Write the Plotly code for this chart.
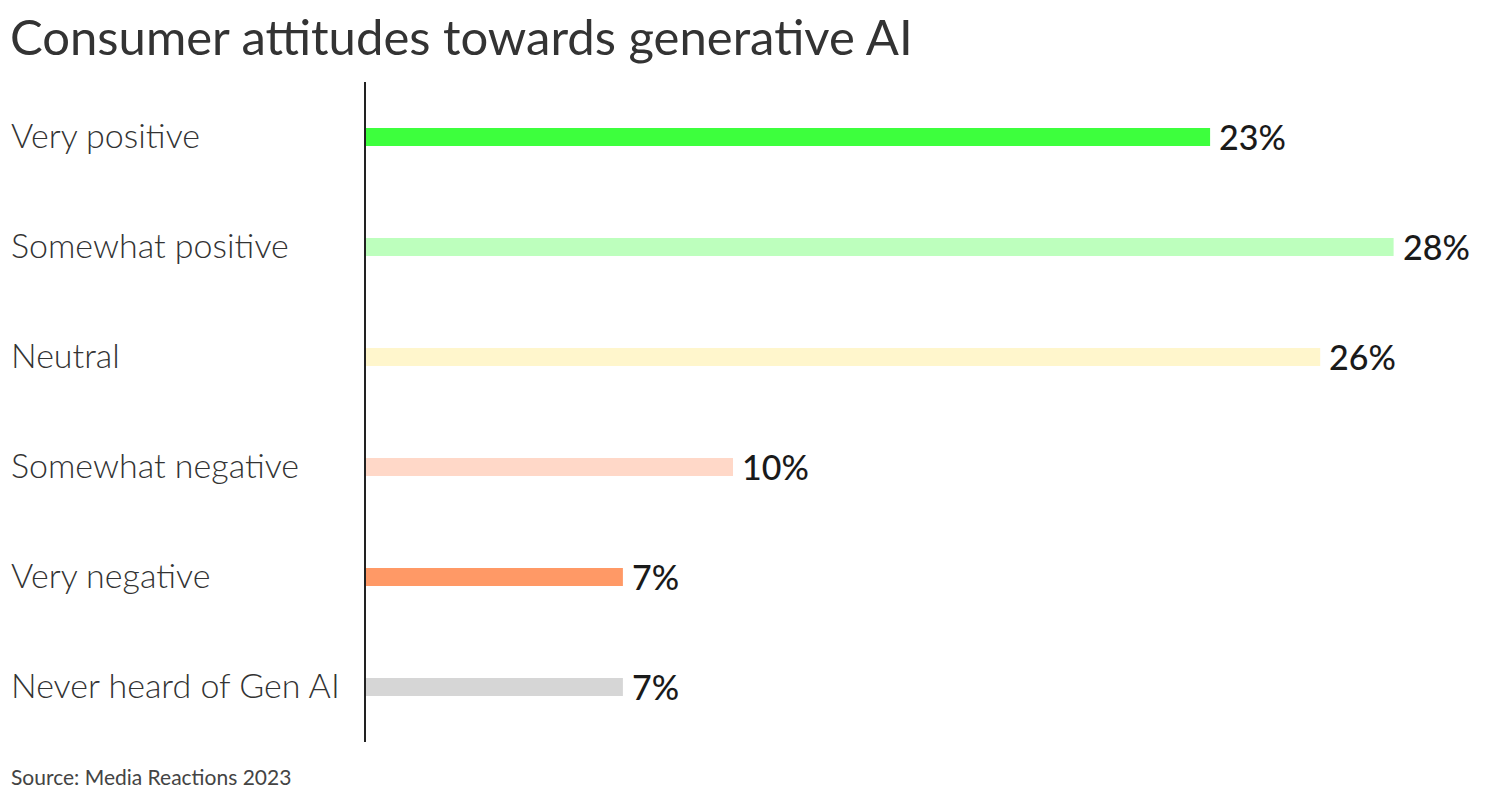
import plotly.graph_objects as go

categories = ["Very positive", "Somewhat positive", "Neutral", "Somewhat negative", "Very negative", "Never heard of Gen AI"]
values = [23, 28, 26, 10, 7, 7]
value_labels = ["23%", "28%", "26%", "10%", "7%", "7%"]
colors = ["#3DFF3D", "#BDFFBD", "#FFF6CC", "#FFD8C8", "#FF9966", "#D6D6D6"]

FONT = "Lato"

fig = go.Figure()
fig.add_trace(go.Bar(
    x=values, y=categories, orientation="h",
    marker=dict(color=colors, line=dict(width=0)),
    width=0.165, hoverinfo="skip",
))

for cat, v, lab in zip(categories, values, value_labels):
    fig.add_annotation(x=v, y=cat, xref="x", yref="y", text=lab, showarrow=False,
                       xanchor="left", xshift=7, yshift=1,
                       font=dict(family=FONT, size=34, color="#1a1a1a", weight=500))
    fig.add_annotation(x=0, y=cat, xref="paper", yref="y", text=cat, showarrow=False,
                       xanchor="left", xshift=-357, yshift=3,
                       font=dict(family=FONT, size=34, color="#333333", weight=300))

fig.add_annotation(x=0, y=0, xref="paper", yref="paper", text="Source: Media Reactions 2023",
                   showarrow=False, xanchor="left", yanchor="middle", xshift=-357, yshift=-34,
                   font=dict(family=FONT, size=21, color="#444444"))

fig.update_layout(
    width=1492, height=792,
    paper_bgcolor="white", plot_bgcolor="white",
    margin=dict(l=358, r=33, t=74, b=58),
    showlegend=False,
    title=dict(text="Consumer attitudes towards generative AI", x=0, xref="paper",
               xanchor="left", yref="paper", y=1, yanchor="bottom",
               pad=dict(l=-356, b=27),
               font=dict(family=FONT, size=49, color="#333333", weight=400)),
    xaxis=dict(range=[0, 30], visible=False, fixedrange=True),
    yaxis=dict(categoryorder="array", categoryarray=categories[::-1],
               showticklabels=False, showline=True, linecolor="#222222", linewidth=1.5,
               showgrid=False, zeroline=False, ticks="", fixedrange=True),
)

fig.write_html("out.html")
